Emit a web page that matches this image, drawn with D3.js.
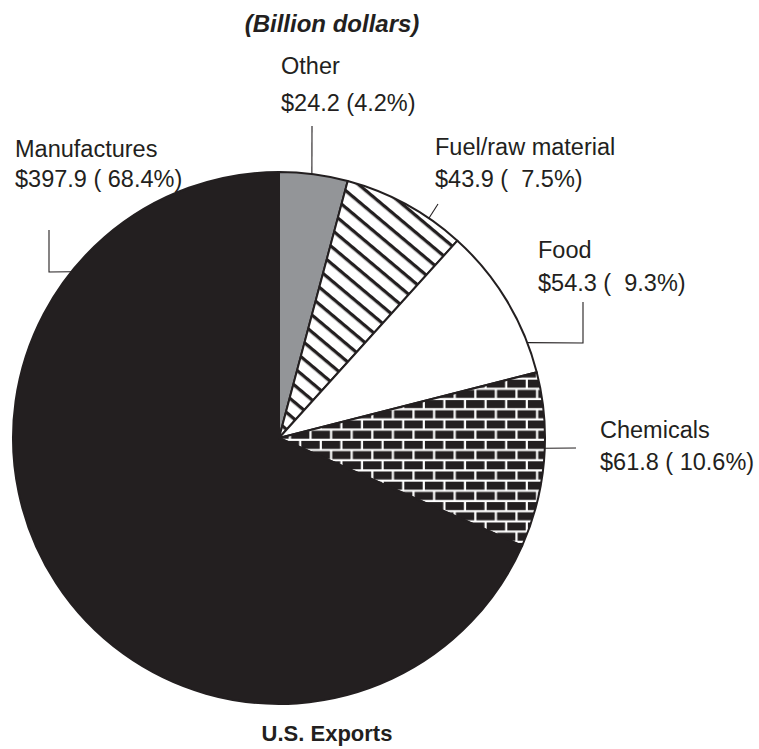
<!DOCTYPE html>
<html>
<head>
<meta charset="utf-8">
<script src="https://cdn.jsdelivr.net/npm/d3@7/dist/d3.min.js"></script>
<style>
  html, body { margin: 0; padding: 0; background: #fff; }
  svg { display: block; }
  text { font-family: "Liberation Sans", Arial, Helvetica, sans-serif; fill: #231f20; white-space: pre; }
</style>
</head>
<body>
<div id="chart"></div>
<script>
// U.S. exports by product group, billion dollars (clockwise from 12 o'clock)
const categories = ["Other", "Fuel/raw material", "Food", "Chemicals", "Manufactures"];
const values = [24.2, 43.9, 54.3, 61.8, 397.9];
const shares = [4.2, 7.5, 9.3, 10.6, 68.4];
const sharePads = ["", "  ", "  ", " ", " "];

const title = "(Billion dollars)";
const caption = "U.S. Exports";

const W = 759, H = 749;
const INK = "#231f20";
const cx = 279, cy = 438, R = 266;

// label placement: text anchor, baselines, and leader path (edge angle + bends)
const labelLayout = [
  { x: 281, y1: 74,  y2: 111, angle: 7.1,   bends: [[312, 126]] },
  { x: 435, y1: 155, y2: 187, angle: 34.3,  bends: [[438, 204]] },
  { x: 538, y1: 258, y2: 291, angle: 69,    bends: [[583, 343], [583, 302]] },
  { x: 600, y1: 438, y2: 470, angle: 92.2,  bends: [[576, 448]] },
  { x: 15,  y1: 157, y2: 187, angle: 308.7, bends: [[49, 272], [49, 230]] }
];

const svg = d3.select("#chart").append("svg")
  .attr("width", W).attr("height", H);

const defs = svg.append("defs");

// diagonal hatch
const hatch = defs.append("pattern")
  .attr("id", "hatch")
  .attr("patternUnits", "userSpaceOnUse")
  .attr("width", 13).attr("height", 13)
  .attr("patternTransform", "rotate(40)");
hatch.append("rect").attr("width", 13).attr("height", 13).attr("fill", "#fff");
hatch.append("rect").attr("x", 0).attr("y", 0).attr("width", 13).attr("height", 3.3).attr("fill", INK);

// brick wall
const bw = 20.6, bh = 10.2, mortar = 2.2;
const brick = defs.append("pattern")
  .attr("id", "brick")
  .attr("patternUnits", "userSpaceOnUse")
  .attr("x", 1.7).attr("y", 390.5)
  .attr("width", bw).attr("height", bh * 2);
brick.append("rect").attr("width", bw).attr("height", bh * 2).attr("fill", "#fff");
[[0, 0], [-bw / 2, bh], [bw / 2, bh]].forEach(([x, y]) => {
  brick.append("rect")
    .attr("x", x).attr("y", y)
    .attr("width", bw - mortar).attr("height", bh - mortar)
    .attr("fill", INK);
});

const fills = ["#939598", "url(#hatch)", "#ffffff", "url(#brick)", INK];

const pie = d3.pie().sort(null).value(d => d)(values);
const arc = d3.arc().innerRadius(0).outerRadius(R);

const g = svg.append("g").attr("transform", `translate(${cx},${cy})`);

g.selectAll("path.slice")
  .data(pie)
  .join("path")
  .attr("class", "slice")
  .attr("d", arc)
  .attr("fill", (d, i) => fills[i])
  .attr("stroke", INK)
  .attr("stroke-width", 2)
  .attr("stroke-linejoin", "round");

// leader lines
const toRad = Math.PI / 180;
const line = d3.line();
labelLayout.forEach((L) => {
  const a = L.angle * toRad;
  const start = [cx + R * Math.sin(a), cy - R * Math.cos(a)];
  svg.append("path")
    .attr("d", line([start, ...L.bends]))
    .attr("fill", "none")
    .attr("stroke", INK)
    .attr("stroke-width", 1.1);
});

// category labels
labelLayout.forEach((L, i) => {
  svg.append("text")
    .attr("x", L.x).attr("y", L.y1)
    .attr("font-size", 23.5)
    .text(categories[i]);
  svg.append("text")
    .attr("x", L.x).attr("y", L.y2)
    .attr("font-size", 23.5)
    .text(`$${values[i].toFixed(1)} (${sharePads[i]}${shares[i].toFixed(1)}%)`);
});

svg.append("text")
  .attr("x", 332).attr("y", 32)
  .attr("text-anchor", "middle")
  .attr("font-size", 24)
  .attr("font-weight", "bold")
  .attr("font-style", "italic")
  .text(title);

svg.append("text")
  .attr("x", 327).attr("y", 741)
  .attr("text-anchor", "middle")
  .attr("font-size", 22)
  .attr("font-weight", "bold")
  .text(caption);
</script>
</body>
</html>
